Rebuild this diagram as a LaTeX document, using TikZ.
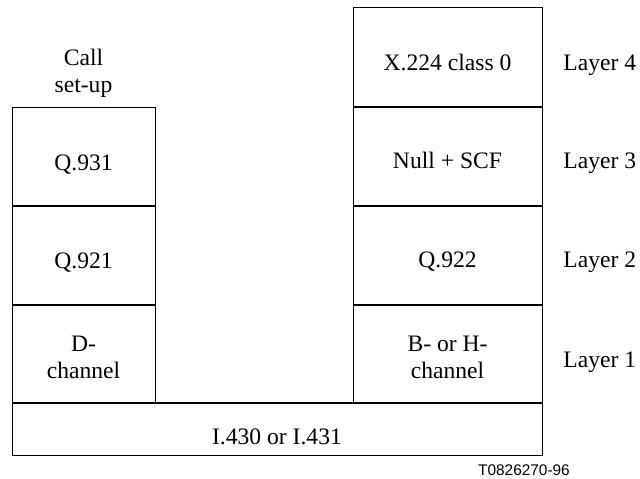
\documentclass[tikz,border=0pt]{standalone}
\usepackage{fontspec}
\setmainfont{Liberation Serif}
\newfontfamily\tagfont{Liberation Sans}
\tikzset{
  thinline/.style={line width=0.5pt},
  thickline/.style={line width=1pt},
  lbl/.style={inner sep=0pt, anchor=base, align=center,
    font=\fontsize{11.8}{13.5}\selectfont},
  layerlbl/.style={lbl, anchor=base west},
}
\begin{document}
\begin{tikzpicture}[x=0.5pt,y=0.5pt]
\useasboundingbox (0,0) rectangle (640,478);
% left stack (D-channel)
\draw[thinline] (12,75) rectangle (155,371);
\draw[thickline] (12,272) -- (155,272);
\draw[thickline] (12,173) -- (155,173);
% right stack (B- or H-channel)
\draw[thinline] (353,75) rectangle (542,470);
\draw[thickline] (353,371) -- (542,371);
\draw[thickline] (353,272) -- (542,272);
\draw[thickline] (353,173) -- (542,173);
% physical layer
\draw[thinline] (12,23) rectangle (542,75);
\draw[thickline] (12,75) -- (542,75);
\node[lbl] (callsetup) at (83.5,386) {Call\\set-up};
\node[lbl] (qnineone) at (83.5,308) {Q.931};
\node[lbl] (qtwoone) at (83.5,210) {Q.921};
\node[lbl] (dchan) at (83.5,100) {D-\\channel};
\node[lbl] (xtwo) at (447.5,408) {X.224 class 0};
\node[lbl] (nullscf) at (447.5,310) {Null + SCF};
\node[lbl] (qtwotwo) at (447.5,211) {Q.922};
\node[lbl] (bhchan) at (447.5,100) {B- or H-\\channel};
\node[lbl] (isdn) at (277,34) {I.430 or I.431};
\node[layerlbl] (layfour) at (563,408) {Layer 4};
\node[layerlbl] (laythree) at (563,310) {Layer 3};
\node[layerlbl] (laytwo) at (563,211) {Layer 2};
\node[layerlbl] (layone) at (563,111) {Layer 1};
\node[inner sep=0pt, anchor=base, font=\tagfont\fontsize{7.7}{9}\selectfont]
  (figtag) at (524,3) {T0826270-96};
\end{tikzpicture}
\end{document}
